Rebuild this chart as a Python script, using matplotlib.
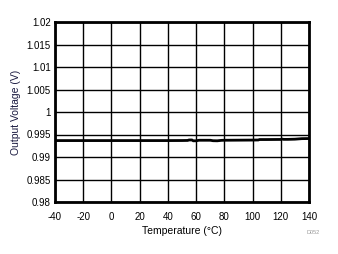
import matplotlib
matplotlib.use("Agg")
import matplotlib.pyplot as plt

temps = [-40, -20, 0, 20, 40, 50, 54, 55, 57, 58, 60, 62, 70, 72, 75, 78, 80, 90, 100, 104, 105, 110, 120, 121, 122, 125, 130, 135, 140]
volts = [0.99365, 0.99365, 0.99365, 0.99365, 0.99365, 0.99366, 0.99368, 0.99378, 0.99378, 0.99360, 0.99360, 0.99372, 0.99372, 0.99362, 0.99360, 0.99370, 0.99372, 0.99374, 0.99376, 0.99378, 0.99388, 0.99388, 0.99390, 0.99398, 0.99392, 0.99392, 0.99396, 0.99408, 0.99410]

xticks = [-40, -20, 0, 20, 40, 60, 80, 100, 120, 140]
yticks = [0.98, 0.985, 0.99, 0.995, 1.0, 1.005, 1.01, 1.015, 1.02]
ytick_labels = ["0.98", "0.985", "0.99", "0.995", "1", "1.005", "1.01", "1.015", "1.02"]

plt.rcParams['font.family'] = ['Liberation Sans', 'DejaVu Sans']

fig = plt.figure(figsize=(3.38, 2.54), dpi=100)
ax = fig.add_axes([55/338, 1-202/254, (309-55)/338, 180/254])
ax.plot(temps, volts, color='black', linewidth=2.0, solid_joinstyle='miter')
ax.set_xlim(-40, 140)
ax.set_ylim(0.98, 1.02)
ax.set_xticks(xticks)
ax.set_xticklabels([str(t) for t in xticks])
ax.set_yticks(yticks)
ax.set_yticklabels(ytick_labels)
ax.grid(True, color='black', linewidth=1.0)
ax.tick_params(length=0, labelsize=7, labelcolor='#000000')
ax.tick_params(axis='y', pad=3)
ax.tick_params(axis='x', pad=7)
for s in ax.spines.values():
    s.set_linewidth(2.0)
    s.set_color('black')
ax.set_xlabel("Temperature (°C)", fontsize=7.5, labelpad=3)
ax.set_ylabel("Output Voltage (V)", fontsize=7.5, color='#1a1a40')
ax.yaxis.set_label_coords(-0.135, 0.5)
fig.text(313/338, 1-232/254, "D052", fontsize=4, color='#999999', ha='center', va='center')
fig.savefig("out.png", dpi=100)
